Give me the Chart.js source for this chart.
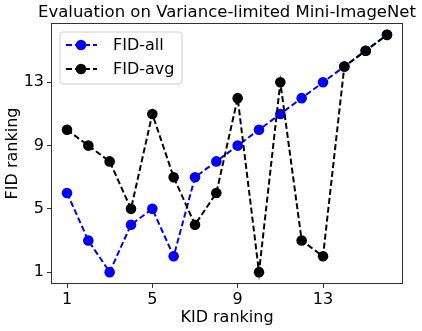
<!DOCTYPE html>
<html>
<head>
<meta charset="utf-8">
<script src="https://cdn.jsdelivr.net/npm/chart.js@4"></script>
<style>
  html, body { margin: 0; padding: 0; background: #fff; }
  #wrap { width: 422px; height: 331px; }
</style>
</head>
<body>
<div id="wrap"><canvas id="lineChart" width="422" height="331"></canvas></div>
<script>
const kidRanking = [1, 2, 3, 4, 5, 6, 7, 8, 9, 10, 11, 12, 13, 14, 15, 16];
const fidAll = [6, 3, 1, 4, 5, 2, 7, 8, 9, 10, 11, 12, 13, 14, 15, 16];
const fidAvg = [10, 9, 8, 5, 11, 7, 4, 6, 12, 1, 13, 3, 2, 14, 15, 16];
const tickValues = [1, 5, 9, 13];

const FONT = "'DejaVu Sans', sans-serif";

const points = ys => kidRanking.map((k, i) => ({ x: k, y: ys[i] }));

// frame, title and legend drawn matplotlib-style
const decor = {
    id: 'decor',
    afterDraw(chart) {
        const ctx = chart.ctx;
        const a = chart.chartArea;
        ctx.save();
        ctx.strokeStyle = '#333';
        ctx.lineWidth = 1;
        ctx.strokeRect(a.left + 0.5, a.top + 0.5, a.right - a.left - 1, a.bottom - a.top - 1);

        ctx.fillStyle = '#000';
        ctx.font = '16.5px ' + FONT;
        ctx.textAlign = 'center';
        ctx.textBaseline = 'middle';
        ctx.fillText('Evaluation on Variance-limited Mini-ImageNet', 227, 13);

        // legend box
        const bx = 60, by = 32, bw = 122, bh = 52, r = 3;
        ctx.beginPath();
        ctx.moveTo(bx + r, by);
        ctx.arcTo(bx + bw, by, bx + bw, by + bh, r);
        ctx.arcTo(bx + bw, by + bh, bx, by + bh, r);
        ctx.arcTo(bx, by + bh, bx, by, r);
        ctx.arcTo(bx, by, bx + bw, by, r);
        ctx.closePath();
        ctx.fillStyle = 'rgba(255,255,255,0.8)';
        ctx.fill();
        ctx.strokeStyle = '#d0d0d0';
        ctx.stroke();

        chart.data.datasets.forEach((ds, i) => {
            const y = 45 + i * 24;
            ctx.setLineDash([6, 3]);
            ctx.lineWidth = 2;
            ctx.strokeStyle = ds.borderColor;
            ctx.beginPath();
            ctx.moveTo(66, y);
            ctx.lineTo(97, y);
            ctx.stroke();
            ctx.setLineDash([]);
            ctx.fillStyle = ds.backgroundColor;
            ctx.beginPath();
            ctx.arc(81, y, 5.3, 0, Math.PI * 2);
            ctx.fill();
            ctx.fillStyle = '#000';
            ctx.font = '16px ' + FONT;
            ctx.textAlign = 'left';
            ctx.fillText(ds.label, 113, y + 1);
        });
        ctx.restore();
    }
};

document.addEventListener("DOMContentLoaded", () => {
    new Chart(document.querySelector('#lineChart'), {
        type: 'line',
        data: {
            datasets: [{
                label: 'FID-all',
                data: points(fidAll),
                borderColor: '#0000ff',
                backgroundColor: '#0000ff',
                borderDash: [6, 3],
                borderWidth: 2,
                pointRadius: 5.3,
                pointBorderWidth: 0,
                order: 2
            }, {
                label: 'FID-avg',
                data: points(fidAvg),
                borderColor: '#000000',
                backgroundColor: '#000000',
                borderDash: [6, 3],
                borderWidth: 2,
                pointRadius: 5.3,
                pointBorderWidth: 0,
                order: 1
            }]
        },
        options: {
            responsive: false,
            animation: false,
            layout: { padding: { top: 23, right: 19, left: 0, bottom: 0 } },
            plugins: {
                legend: { display: false },
                tooltip: { enabled: false },
                title: { display: false }
            },
            scales: {
                x: {
                    type: 'linear',
                    min: 0.25,
                    max: 16.75,
                    afterBuildTicks: s => { s.ticks = tickValues.map(v => ({ value: v })); },
                    afterFit: s => { s.height = 47; },
                    grid: { drawOnChartArea: false, tickLength: 4, tickColor: '#333' },
                    border: { display: false },
                    ticks: { color: '#000', font: { family: FONT, size: 16 }, padding: 2, maxRotation: 0 },
                    title: { display: true, text: 'KID ranking', color: '#000', font: { family: FONT, size: 16 }, padding: { top: 0 } }
                },
                y: {
                    type: 'linear',
                    min: 0.25,
                    max: 16.75,
                    afterBuildTicks: s => { s.ticks = tickValues.map(v => ({ value: v })); },
                    afterFit: s => { s.width = 51; },
                    grid: { drawOnChartArea: false, tickLength: 4, tickColor: '#333' },
                    border: { display: false },
                    ticks: { color: '#000', font: { family: FONT, size: 16 }, padding: 3 },
                    title: { display: true, text: 'FID ranking', color: '#000', font: { family: FONT, size: 16 }, padding: { top: 3, bottom: 0 } }
                }
            }
        },
        plugins: [decor]
    });
});
</script>
</body>
</html>
